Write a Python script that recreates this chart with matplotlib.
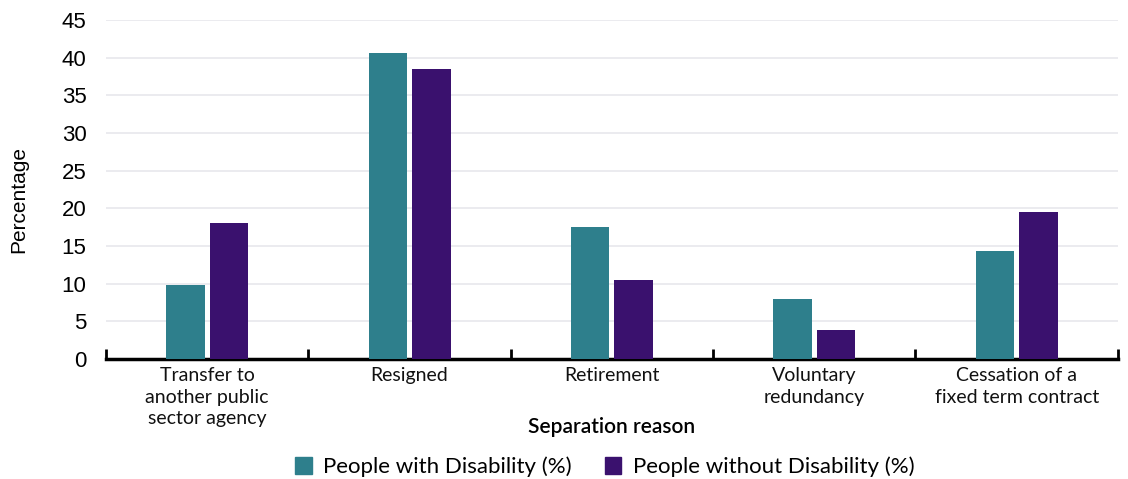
import numpy as np
import matplotlib.pyplot as plt
from matplotlib.patches import Patch

plt.rcParams['font.family'] = ['Liberation Sans', 'DejaVu Sans']

# --- data ---
categories = ['Transfer to\nanother public\nsector agency', 'Resigned', 'Retirement',
              'Voluntary\nredundancy', 'Cessation of a\nfixed term contract']
with_disability = [9.8, 40.6, 17.5, 8.0, 14.3]
without_disability = [18.1, 38.5, 10.5, 3.85, 19.5]
series_names = ['People with Disability (%)', 'People without Disability (%)']
colors = ['#2e7f8c', '#3a116e']

fig = plt.figure(figsize=(11.28, 4.79), dpi=100)
ax = fig.add_axes([0.094, 0.2505, 0.897, 0.7075])

x = np.arange(len(categories))
w = 0.19
gap = 0.025
ax.bar(x - (w + gap) / 2, with_disability, w, color=colors[0], zorder=3)
ax.bar(x + (w + gap) / 2, without_disability, w, color=colors[1], zorder=3)

ax.set_xlim(-0.5, len(categories) - 0.5)
ax.set_ylim(0, 45)
ax.set_yticks(range(0, 46, 5))
ax.grid(axis='y', color='#e8e8ec', linewidth=1.2, zorder=0)
ax.set_axisbelow(True)

for s in ['top', 'right', 'left']:
    ax.spines[s].set_visible(False)
ax.spines['bottom'].set_linewidth(2.5)
ax.spines['bottom'].set_color('black')

ax.set_xticks(x)
ax.set_xticklabels(categories, fontsize=14, linespacing=1.3, family=['Lato', 'DejaVu Sans'],
                   color='#111111')
ax.tick_params(axis='x', length=0, pad=6)
ax.set_xticks(np.arange(-0.5, len(categories)), minor=True)
ax.tick_params(axis='x', which='minor', direction='in', length=7, width=2, color='black')
ax.tick_params(axis='y', length=0, labelsize=16, pad=14)

ax.set_ylabel('Percentage', fontsize=15)
ax.yaxis.set_label_coords(-0.077, 0.47)
ax.set_xlabel('Separation reason', fontsize=15, fontweight='semibold',
              family=['Lato', 'DejaVu Sans'])
ax.xaxis.set_label_coords(0.5, -0.172)

handles = [Patch(color=c) for c in colors]
fig.legend(handles, series_names, loc='center', bbox_to_anchor=(0.536, 0.025),
           ncol=2, frameon=False, prop={'family': ['Lato', 'DejaVu Sans'], 'size': 16},
           handlelength=0.75, handleheight=0.75, handletextpad=0.5, columnspacing=1.5)

fig.savefig('out.png', dpi=100)
